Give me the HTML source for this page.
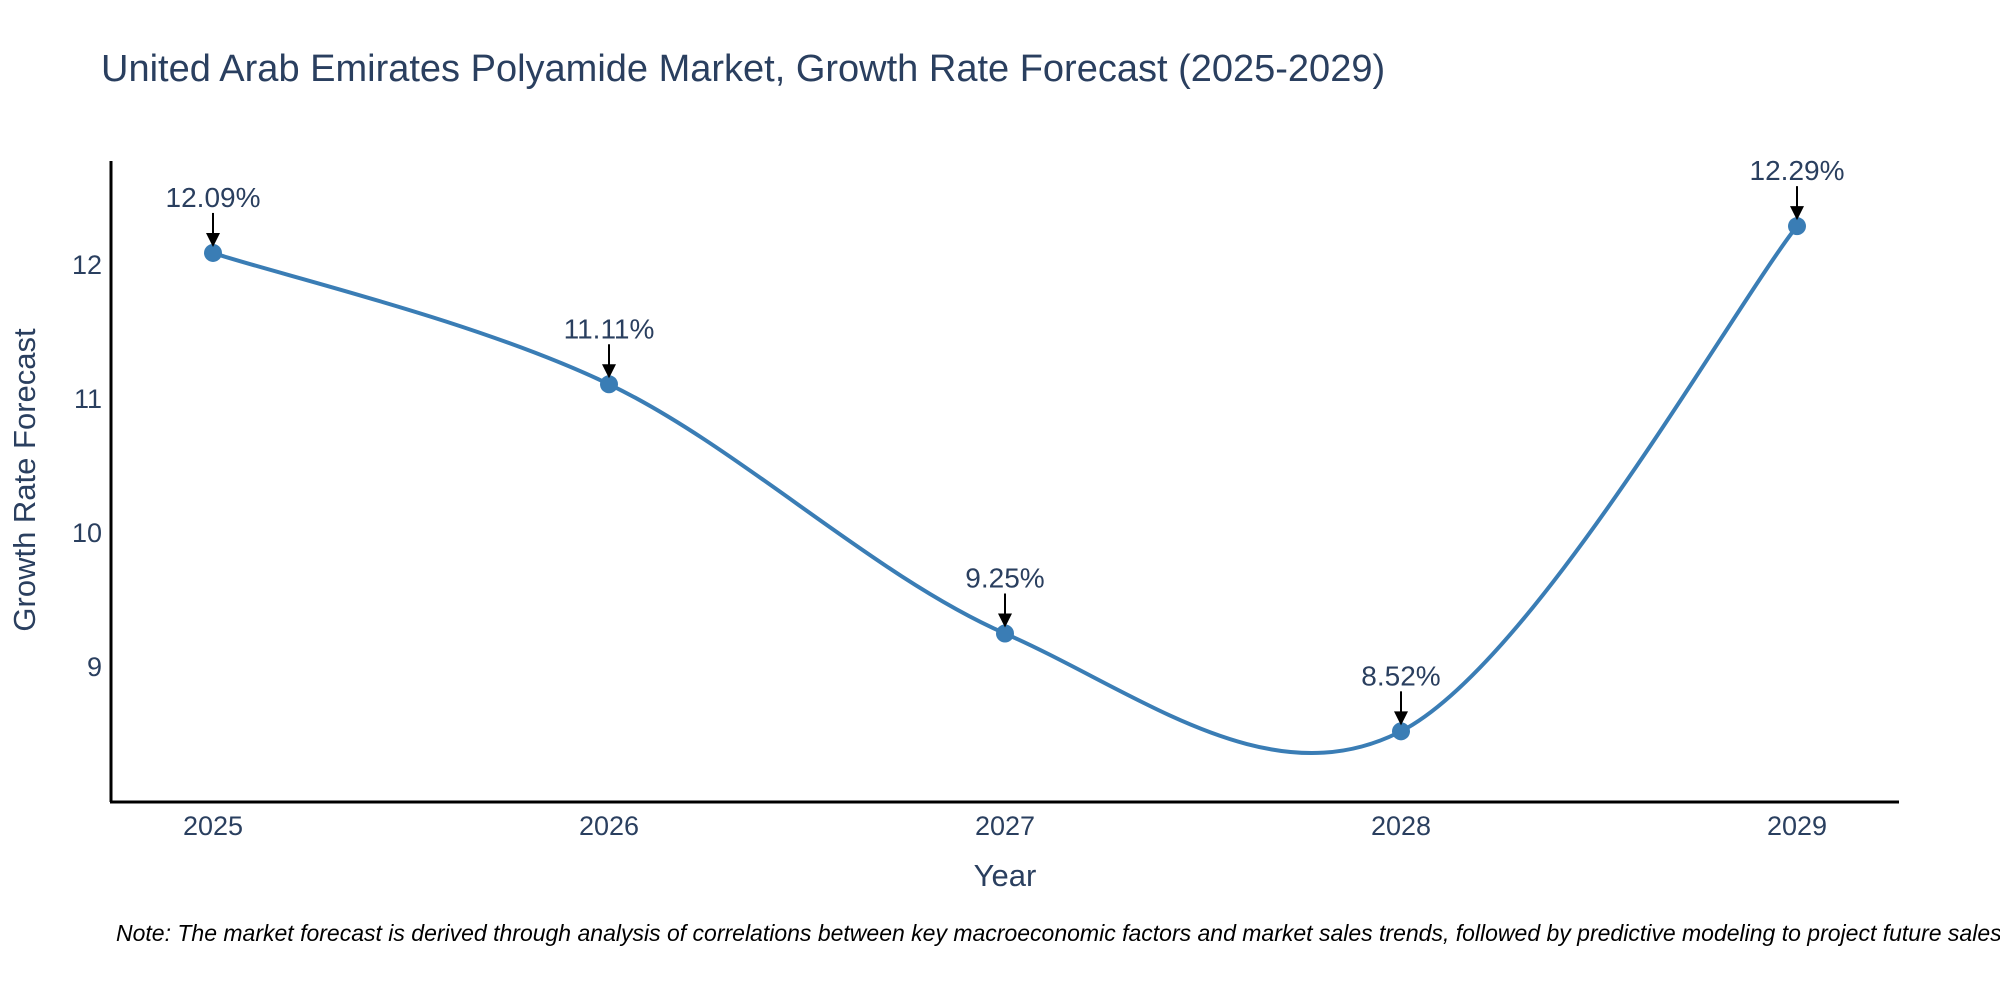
<!DOCTYPE html>
<html><head><meta charset="utf-8"><style>
body{margin:0;background:#fff;}
svg{display:block;font-family:"Liberation Sans",sans-serif;}
</style></head><body>
<svg id="chart" width="2000" height="1000">
<text x="101" y="81" font-size="38" fill="#2a3f5f">United Arab Emirates Polyamide Market, Growth Rate Forecast (2025-2029)</text>
<g id="yticks"></g>
<g id="xticks"></g>
<line x1="111" y1="161" x2="111" y2="802" stroke="#000" stroke-width="3"/>
<line x1="110" y1="802" x2="1899" y2="802" stroke="#000" stroke-width="3"/>
<text transform="translate(35,480) rotate(-90)" text-anchor="middle" font-size="31" fill="#2a3f5f">Growth Rate Forecast</text>
<text x="1005" y="886" text-anchor="middle" font-size="31" fill="#2a3f5f">Year</text>
<g id="series"></g>
<text x="116" y="941" font-size="23" font-style="italic" fill="#000">Note: The market forecast is derived through analysis of correlations between key macroeconomic factors and market sales trends, followed by predictive modeling to project future sales</text>
</svg>
<script>
const years = [2025, 2026, 2027, 2028, 2029];
const values = [12.09, 11.11, 9.25, 8.52, 12.29];
const labels = ["12.09%", "11.11%", "9.25%", "8.52%", "12.29%"];
const yTicks = [9, 10, 11, 12];
const NS = "http://www.w3.org/2000/svg";
function xs(i){ return 213 + (i - 2025) * 396; }
function ys(v){ return 265 + (12 - v) * 134; }
function mk(tag, attrs, parent){ const e=document.createElementNS(NS,tag); for(const k in attrs) e.setAttribute(k,attrs[k]); parent.appendChild(e); return e; }
const yt=document.getElementById('yticks');
yTicks.forEach(t=>{
  const e=mk('text',{x:102,y:ys(t)+9,'text-anchor':'end','font-size':'27',fill:'#2a3f5f'},yt);
  
  
  e.textContent=t;
});
const xt=document.getElementById('xticks');
years.forEach(y=>{
  const e=mk('text',{x:xs(y),y:835,'text-anchor':'middle','font-size':'27',fill:'#2a3f5f'},xt);
  
  
  e.textContent=y;
});
const g=document.getElementById('series');
const pts=years.map((y,i)=>[xs(y),ys(values[i])]);
let d='M'+pts[0][0]+','+pts[0][1];
const s=1/6;
for(let i=0;i<pts.length-1;i++){
  const p0=pts[Math.max(0,i-1)],p1=pts[i],p2=pts[i+1],p3=pts[Math.min(pts.length-1,i+2)];
  const c1=[p1[0]+(p2[0]-p0[0])*s, p1[1]+(p2[1]-p0[1])*s];
  const c2=[p2[0]-(p3[0]-p1[0])*s, p2[1]-(p3[1]-p1[1])*s];
  d+=' C'+c1[0]+','+c1[1]+' '+c2[0]+','+c2[1]+' '+p2[0]+','+p2[1];
}
const line=mk('path',{d:d,fill:'none',stroke:'#3a7db5','stroke-width':'4'},g);


pts.forEach((p,i)=>{
  const c=mk('circle',{cx:p[0],cy:p[1],r:9,fill:'#3a7db5'},g);
  
  
  const a=mk('line',{x1:p[0],y1:p[1]-40,x2:p[0],y2:p[1]-18,stroke:'#000','stroke-width':'2'},g);
  
  
  const h=mk('polygon',{points:(p[0]-7)+','+(p[1]-20)+' '+(p[0]+7)+','+(p[1]-20)+' '+p[0]+','+(p[1]-6),fill:'#000'},g);
  
  
  const t=mk('text',{x:p[0],y:p[1]-46,'text-anchor':'middle','font-size':'28',fill:'#2a3f5f'},g);
  
  
  t.textContent=labels[i];
});
</script>
</body></html>
